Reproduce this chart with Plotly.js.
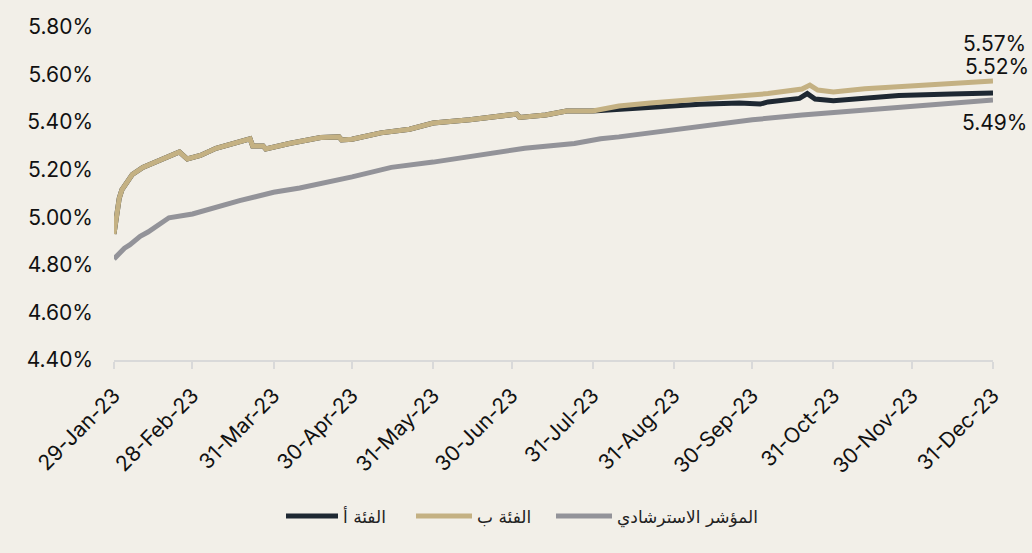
<!DOCTYPE html>
<html>
<head>
<meta charset="utf-8">
<script src="https://cdn.plot.ly/plotly-3.0.1.min.js"></script>
<style>
html,body{margin:0;padding:0;background:#f2efe8;}
#chart{width:1032px;height:553px;}
</style>
</head>
<body>
<div id="chart"></div>
<script>
// Series names
const seriesNames = ["الفئة أ", "الفئة ب", "المؤشر الاسترشادي"];

// Class B (gold)
const datesB = ["2023-01-29","2023-01-30","2023-01-31","2023-02-01","2023-02-03","2023-02-05","2023-02-09","2023-02-13","2023-02-17","2023-02-23","2023-02-26","2023-03-03","2023-03-09","2023-03-16","2023-03-22","2023-03-23","2023-03-27","2023-03-28","2023-04-06","2023-04-18","2023-04-25","2023-04-26","2023-04-30","2023-05-11","2023-05-22","2023-05-31","2023-06-14","2023-07-02","2023-07-03","2023-07-13","2023-07-21","2023-07-31","2023-08-10","2023-08-22","2023-09-10","2023-09-23","2023-10-06","2023-10-19","2023-10-22","2023-10-25","2023-10-31","2023-11-12","2023-11-25","2023-12-15","2023-12-31"];
const valuesB = [4.93,5.00,5.08,5.115,5.15,5.18,5.21,5.228,5.25,5.275,5.245,5.26,5.29,5.31,5.33,5.30,5.30,5.287,5.31,5.335,5.338,5.325,5.328,5.355,5.37,5.396,5.41,5.434,5.42,5.43,5.447,5.447,5.468,5.48,5.495,5.51,5.52,5.539,5.556,5.535,5.527,5.54,5.55,5.565,5.573];

// Class A (dark) – diverges from Class B after end of July
const datesA = ["2023-01-29","2023-01-30","2023-01-31","2023-02-01","2023-02-03","2023-02-05","2023-02-09","2023-02-13","2023-02-17","2023-02-23","2023-02-26","2023-03-03","2023-03-09","2023-03-16","2023-03-22","2023-03-23","2023-03-27","2023-03-28","2023-04-06","2023-04-18","2023-04-25","2023-04-26","2023-04-30","2023-05-11","2023-05-22","2023-05-31","2023-06-14","2023-07-02","2023-07-03","2023-07-13","2023-07-21","2023-07-31","2023-08-10","2023-08-28","2023-09-10","2023-09-25","2023-10-03","2023-10-06","2023-10-18","2023-10-21","2023-10-24","2023-10-31","2023-11-12","2023-11-25","2023-12-15","2023-12-31"];
const valuesA = [4.93,5.00,5.08,5.115,5.15,5.18,5.21,5.228,5.25,5.275,5.245,5.26,5.29,5.31,5.33,5.30,5.30,5.287,5.31,5.335,5.338,5.325,5.328,5.355,5.37,5.396,5.41,5.434,5.42,5.43,5.447,5.447,5.455,5.468,5.475,5.48,5.476,5.485,5.50,5.52,5.497,5.49,5.50,5.512,5.518,5.522];

// Benchmark (gray)
const datesI = ["2023-01-29","2023-01-31","2023-02-02","2023-02-04","2023-02-08","2023-02-11","2023-02-16","2023-02-19","2023-02-28","2023-03-03","2023-03-11","2023-03-18","2023-03-31","2023-04-10","2023-04-30","2023-05-15","2023-05-31","2023-06-05","2023-06-30","2023-07-05","2023-07-24","2023-08-03","2023-08-10","2023-08-31","2023-09-23","2023-09-30","2023-10-19","2023-10-31","2023-11-30","2023-12-31"];
const valuesI = [4.825,4.85,4.87,4.884,4.92,4.938,4.977,4.998,5.014,5.024,5.048,5.07,5.105,5.123,5.17,5.21,5.232,5.24,5.28,5.29,5.31,5.33,5.338,5.367,5.396,5.41,5.43,5.44,5.465,5.493];

// Axis ticks
const xTickVals = ["2023-01-29","2023-02-28","2023-03-31","2023-04-30","2023-05-31","2023-06-30","2023-07-31","2023-08-31","2023-09-30","2023-10-31","2023-11-30","2023-12-31"];
const xTickText = ["29-Jan-23","28-Feb-23","31-Mar-23","30-Apr-23","31-May-23","30-Jun-23","31-Jul-23","31-Aug-23","30-Sep-23","31-Oct-23","30-Nov-23","31-Dec-23"];
const yTickVals = [4.4,4.6,4.8,5.0,5.2,5.4,5.6,5.8];
const yTickText = ["4.40%","4.60%","4.80%","5.00%","5.20%","5.40%","5.60%","5.80%"];

// End labels
const endLabels = ["5.57%","5.52%","5.49%"];
const endLabelY = [5.729,5.632,5.40];

const colors = ["#1e2832","#c4b183","#939399"];
const numFont = "Inter, Lato, sans-serif";
const legendFont = {family: "DejaVu Sans, Noto Sans, sans-serif", size: 17, color: "#222222"};

const traces = [
  {x: datesA, y: valuesA, name: seriesNames[0], type: "scatter", mode: "lines",
   line: {color: colors[0], width: 5}, legend: "legend"},
  {x: datesB, y: valuesB, name: seriesNames[1], type: "scatter", mode: "lines",
   line: {color: colors[1], width: 5}, legend: "legend2"},
  {x: datesI, y: valuesI, name: seriesNames[2], type: "scatter", mode: "lines",
   line: {color: colors[2], width: 5}, legend: "legend3"}
];

const annotations = endLabels.map((t, i) => ({
  x: "2023-12-31", y: endLabelY[i], xref: "x", yref: "y",
  text: t, showarrow: false, xanchor: "center", yanchor: "middle",
  xshift: i === 1 ? 4 : 1,
  font: {family: numFont, size: 21, color: "#111111"}
}));

function legendAt(px, w) {
  return {
    orientation: "h", x: (px - 114) / 879, xanchor: "left", y: -0.47, yanchor: "middle",
    itemwidth: w,
    font: legendFont, bgcolor: "rgba(0,0,0,0)"
  };
}

const layout = {
  width: 1032, height: 553,
  paper_bgcolor: "#f2efe8", plot_bgcolor: "#f2efe8",
  margin: {l: 114, r: 39, t: 27, b: 193},
  showlegend: true,
  legend: legendAt(281, 52),
  legend2: legendAt(411, 56),
  legend3: legendAt(551, 56),
  xaxis: {
    type: "date",
    range: ["2023-01-29", "2023-12-31"],
    tickvals: xTickVals, ticktext: xTickText,
    tickangle: -45,
    showgrid: false, zeroline: false,
    showline: true, linecolor: "#d9d9d9", linewidth: 2,
    ticks: "outside", ticklen: 7, tickcolor: "#d9d9d9", tickwidth: 2,
    ticklabelstandoff: 6,
    tickfont: {family: numFont, size: 21, color: "#111111"}
  },
  yaxis: {
    range: [4.4, 5.8],
    tickvals: yTickVals, ticktext: yTickText,
    showgrid: false, zeroline: false, showline: false,
    ticks: "", ticklabelstandoff: 20,
    tickfont: {family: numFont, size: 21, color: "#111111"}
  },
  annotations: annotations
};

Plotly.newPlot("chart", traces, layout, {displayModeBar: false, staticPlot: true});
</script>
</body>
</html>
